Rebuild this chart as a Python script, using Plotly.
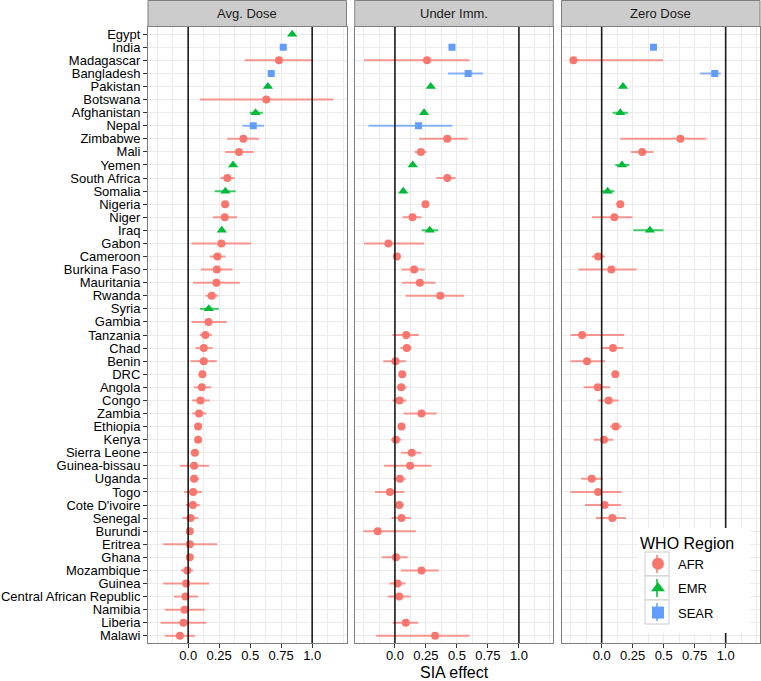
import plotly.graph_objects as go

countries = ["Egypt", "India", "Madagascar", "Bangladesh", "Pakistan", "Botswana", "Afghanistan",
             "Nepal", "Zimbabwe", "Mali", "Yemen", "South Africa", "Somalia", "Nigeria", "Niger",
             "Iraq", "Gabon", "Cameroon", "Burkina Faso", "Mauritania", "Rwanda", "Syria", "Gambia",
             "Tanzania", "Chad", "Benin", "DRC", "Angola", "Congo", "Zambia", "Ethiopia", "Kenya",
             "Sierra Leone", "Guinea-bissau", "Uganda", "Togo", "Cote D'ivoire", "Senegal", "Burundi",
             "Eritrea", "Ghana", "Mozambique", "Guinea", "Central African Republic", "Namibia",
             "Liberia", "Malawi"]

regions = ["EMR", "SEAR", "AFR", "SEAR", "EMR", "AFR", "EMR",
           "SEAR", "AFR", "AFR", "EMR", "AFR", "EMR", "AFR", "AFR",
           "EMR", "AFR", "AFR", "AFR", "AFR", "AFR", "EMR", "AFR",
           "AFR", "AFR", "AFR", "AFR", "AFR", "AFR", "AFR", "AFR", "AFR",
           "AFR", "AFR", "AFR", "AFR", "AFR", "AFR", "AFR",
           "AFR", "AFR", "AFR", "AFR", "AFR", "AFR",
           "AFR", "AFR"]

facets = ["Avg. Dose", "Under Imm.", "Zero Dose"]

avg_est = [0.839, 0.767, 0.732, 0.670, 0.643, 0.630, 0.544, 0.525, 0.445, 0.410, 0.362, 0.316,
           0.300, 0.298, 0.295, 0.271, 0.268, 0.236, 0.231, 0.228, 0.190, 0.166, 0.164, 0.139,
           0.126, 0.126, 0.115, 0.110, 0.099, 0.088, 0.080, 0.080, 0.054, 0.048, 0.048, 0.040,
           0.038, 0.019, 0.013, 0.013, 0.013, -0.008, -0.016, -0.021, -0.029, -0.038, -0.067]
avg_lo = [None, None, 0.456, None, None, 0.094, 0.496, 0.437, 0.314, 0.298, None, 0.260,
          0.214, None, 0.201, None, 0.027, 0.174, 0.102, 0.040, 0.139, 0.094, 0.027, 0.094,
          0.059, 0.019, None, 0.046, 0.032, 0.032, None, None, 0.021, -0.067, 0.013, -0.032,
          -0.019, -0.046, None, -0.201, None, -0.059, -0.201, -0.115, -0.188, -0.223, -0.188]
avg_hi = [None, None, 1.005, None, None, 1.172, 0.603, 0.611, 0.571, 0.528, None, 0.375,
          0.383, None, 0.394, None, 0.509, 0.300, 0.357, 0.416, 0.244, 0.247, 0.311, 0.190,
          0.196, 0.231, None, 0.185, 0.174, 0.147, None, None, 0.088, 0.169, 0.088, 0.113,
          0.094, 0.083, None, 0.233, None, 0.040, 0.169, 0.080, 0.134, 0.147, 0.054]

ui_est = [None, 0.460, 0.259, 0.591, 0.289, None, 0.235, 0.190, 0.422, 0.209, 0.144, 0.422,
          0.067, 0.246, 0.142, 0.281, -0.053, 0.016, 0.155, 0.201, 0.366, None, None, 0.091,
          0.096, 0.005, 0.059, 0.051, 0.037, 0.214, 0.053, 0.008, 0.136, 0.123, 0.040, -0.040,
          0.035, 0.053, -0.139, None, 0.008, 0.214, 0.021, 0.035, None, 0.088, 0.324]
ui_lo = [None, None, -0.249, 0.428, None, None, None, -0.214, 0.195, 0.160, None, 0.334,
         None, None, 0.061, 0.217, -0.249, None, 0.053, 0.056, 0.086, None, None, -0.021,
         0.045, -0.094, None, 0.013, -0.021, 0.070, None, -0.032, 0.048, -0.088, -0.013, -0.160,
         0.000, -0.027, -0.254, None, -0.107, 0.048, -0.045, -0.059, None, -0.019, -0.152]
ui_hi = [None, None, 0.602, 0.709, None, None, None, 0.463, 0.588, 0.254, None, 0.489,
         None, None, 0.214, 0.348, 0.235, None, 0.241, 0.329, 0.559, None, None, 0.193,
         0.134, 0.088, None, 0.094, 0.094, 0.337, None, 0.053, 0.214, 0.294, 0.086, 0.075,
         0.072, 0.128, 0.168, None, 0.102, 0.353, 0.086, 0.126, None, 0.187, 0.602]

zd_est = [None, 0.418, -0.228, 0.912, 0.172, None, 0.150, None, 0.635, 0.327, 0.164, None,
          0.048, 0.150, 0.102, 0.389, None, -0.029, 0.078, None, None, None, None, -0.158,
          0.091, -0.118, 0.110, -0.032, 0.056, None, 0.113, 0.019, None, None, -0.080, -0.029,
          0.024, 0.086, None, None, None, None, None, None, None, None, None]
zd_lo = [None, None, -0.235, 0.794, None, None, 0.088, None, 0.150, 0.236, 0.110, None,
         0.003, None, -0.078, 0.255, None, -0.080, -0.188, None, None, None, None, -0.252,
         0.000, -0.252, None, -0.145, -0.029, None, 0.067, -0.064, None, None, -0.166, -0.252,
         -0.134, -0.046, None, None, None, None, None, None, None, None, None]
zd_hi = [None, None, 0.496, 0.960, None, None, 0.212, None, 0.845, 0.416, 0.223, None,
         0.102, None, 0.249, 0.499, None, 0.027, 0.282, None, None, None, None, 0.182,
         0.174, 0.027, None, 0.067, 0.137, None, 0.161, 0.094, None, None, 0.008, 0.161,
         0.155, 0.196, None, None, None, None, None, None, None, None, None]

x_tick_vals = [0.0, 0.25, 0.5, 0.75, 1.0]
x_tick_text = ["0.0", "0.25", "0.5", "0.75", "1.0"]
x_grid_vals = [-0.25, -0.125, 0.125, 0.25, 0.375, 0.5, 0.625, 0.75, 0.875, 1.125, 1.25]
ref_lines = [0.0, 1.0]
region_order = ["AFR", "EMR", "SEAR"]

region_color = {"AFR": "#F8766D", "EMR": "#00BA38", "SEAR": "#619CFF"}
bar_color = {"AFR": "rgba(248,118,109,0.75)", "EMR": "rgba(0,186,56,0.75)", "SEAR": "rgba(97,156,255,0.75)"}
region_symbol = {"AFR": "circle", "EMR": "triangle-up", "SEAR": "square"}
region_size = {"AFR": 8, "EMR": 9, "SEAR": 7}

FONT = "Liberation Sans, Arial, Helvetica, sans-serif"
W, H = 761, 681
ML, MR, MT, MB = 148, 1, 27, 38
PW = W - ML - MR
PH = H - MT - MB
panel_w = 198.5 / PW
gap = (1 - 3 * panel_w) / 2
domains = [[i * (panel_w + gap), i * (panel_w + gap) + panel_w] for i in range(3)]
domains[2][1] = 1.0


def px_x(px):
    return (px - ML) / PW


def px_y(py):
    return (H - MB - py) / PH


panel_data = [(avg_est, avg_lo, avg_hi), (ui_est, ui_lo, ui_hi), (zd_est, zd_lo, zd_hi)]

fig = go.Figure()
for p, (est, lo, hi) in enumerate(panel_data):
    xa = "x" if p == 0 else f"x{p+1}"
    ya = "y" if p == 0 else f"y{p+1}"
    for reg in region_order:
        idx = [i for i in range(len(countries)) if regions[i] == reg and est[i] is not None]
        xs = [est[i] for i in idx]
        ys = [countries[i] for i in idx]
        plus = [(hi[i] - est[i]) if hi[i] is not None else 0 for i in idx]
        minus = [(est[i] - lo[i]) if lo[i] is not None else 0 for i in idx]
        fig.add_trace(go.Scatter(
            x=xs, y=ys, mode="markers", xaxis=xa, yaxis=ya,
            name=reg, legendgroup=reg, showlegend=(p == 0),
            marker=dict(color=region_color[reg], symbol=region_symbol[reg], size=region_size[reg],
                        line=dict(width=0)),
            error_x=dict(type="data", symmetric=False, array=plus, arrayminus=minus,
                         color=bar_color[reg], thickness=2, width=0),
            hoverinfo="x+y+name",
        ))

# legend geometry (pixels)
LEG_LEFT, LEG_TOP = 638, 528
layout = dict(
    width=W, height=H,
    margin=dict(l=ML, r=MR, t=MT, b=MB, pad=0),
    paper_bgcolor="white", plot_bgcolor="white",
    font=dict(family=FONT, size=13, color="#1a1a1a"),
    showlegend=True,
    legend=dict(
        x=px_x(LEG_LEFT), y=px_y(LEG_TOP), xanchor="left", yanchor="top",
        bgcolor="rgba(0,0,0,0)", borderwidth=0,
        title=dict(text="WHO Region", font=dict(size=16, family=FONT, color="#000")),
        font=dict(size=13, family=FONT, color="#000"),
        traceorder="grouped", tracegroupgap=4.5, itemsizing="constant",
    ),
)

for p in range(3):
    xkey = "xaxis" if p == 0 else f"xaxis{p+1}"
    ykey = "yaxis" if p == 0 else f"yaxis{p+1}"
    ya = "y" if p == 0 else f"y{p+1}"
    xa = "x" if p == 0 else f"x{p+1}"
    layout[xkey] = dict(
        domain=domains[p], anchor=ya, range=[-0.324, 1.277],
        tickmode="array", tickvals=x_tick_vals, ticktext=x_tick_text,
        ticks="outside", ticklen=4, tickcolor="#333333", tickwidth=1,
        ticklabelstandoff=-4,
        tickfont=dict(size=13, color="#000", family=FONT),
        showgrid=False,
        minor=dict(tickvals=x_grid_vals, showgrid=True, gridcolor="#ebebeb", gridwidth=1),
        zeroline=False, showline=True, mirror=True, linecolor="#7f7f7f", linewidth=1,
        fixedrange=True,
    )
    ydict = dict(
        domain=[0, 1], anchor=xa, type="category",
        categoryorder="array", categoryarray=countries,
        tickmode="array", tickvals=countries, ticktext=countries,
        range=[len(countries) - 1 + 0.55, -0.55],
        showgrid=True, gridcolor="#ebebeb", gridwidth=1,
        zeroline=False, showline=True, mirror=True, linecolor="#7f7f7f", linewidth=1,
        fixedrange=True,
    )
    if p == 0:
        ydict.update(ticks="outside", ticklen=4, tickcolor="#333333", tickwidth=1,
                     showticklabels=True, tickfont=dict(size=13, color="#000", family=FONT))
    else:
        ydict.update(showticklabels=False, ticks="")
    layout[ykey] = ydict

fig.update_layout(**layout)

shapes = []
annotations = []
strip_y0 = 1 + 0.5 / PH
strip_y1 = 1 + (MT - 0.5) / PH
for p in range(3):
    xa = "x" if p == 0 else f"x{p+1}"
    ya = "y" if p == 0 else f"y{p+1}"
    for v in ref_lines:
        shapes.append(dict(type="line", xref=xa, yref=f"{ya} domain",
                           x0=v, x1=v, y0=0, y1=1, line=dict(color="#1a1a1a", width=1.6),
                           layer="above"))
    shapes.append(dict(type="rect", xref="paper", yref="paper",
                       x0=domains[p][0], x1=domains[p][1], y0=strip_y0, y1=strip_y1,
                       fillcolor="#cccccc", line=dict(color="#7f7f7f", width=1), layer="above"))
    annotations.append(dict(text=facets[p], xref="paper", yref="paper",
                            x=(domains[p][0] + domains[p][1]) / 2, y=(strip_y0 + strip_y1) / 2,
                            xanchor="center", yanchor="middle", showarrow=False,
                            font=dict(size=13, color="#1a1a1a", family=FONT)))

# legend background and key boxes (ggplot-style)
shapes.append(dict(type="rect", xref="paper", yref="paper",
                   x0=px_x(638), x1=px_x(750), y0=px_y(633), y1=px_y(528),
                   fillcolor="white", line=dict(width=0), layer="above"))
KEY_X0, KEY_Y0, KEY = 645, 552, 24
for k, reg in enumerate(region_order):
    y_top = KEY_Y0 + KEY * k
    shapes.append(dict(type="rect", xref="paper", yref="paper",
                       x0=px_x(KEY_X0), x1=px_x(KEY_X0 + KEY), y0=px_y(y_top + KEY), y1=px_y(y_top),
                       fillcolor="white", line=dict(color="#cccccc", width=1), layer="above"))
    shapes.append(dict(type="line", xref="paper", yref="paper",
                       x0=px_x(KEY_X0 + KEY / 2), x1=px_x(KEY_X0 + KEY / 2),
                       y0=px_y(y_top + KEY - 3), y1=px_y(y_top + 3),
                       line=dict(color=bar_color[reg], width=2), layer="above"))

annotations.append(dict(text="SIA effect", xref="paper", yref="paper", x=0.5,
                        y=px_y(672), xanchor="center", yanchor="middle",
                        showarrow=False, font=dict(size=16, color="#000", family=FONT)))

fig.update_layout(shapes=shapes, annotations=annotations)
fig.write_html("out.html", post_script="document.body.style.margin='0px';",
               config={"displayModeBar": False})
